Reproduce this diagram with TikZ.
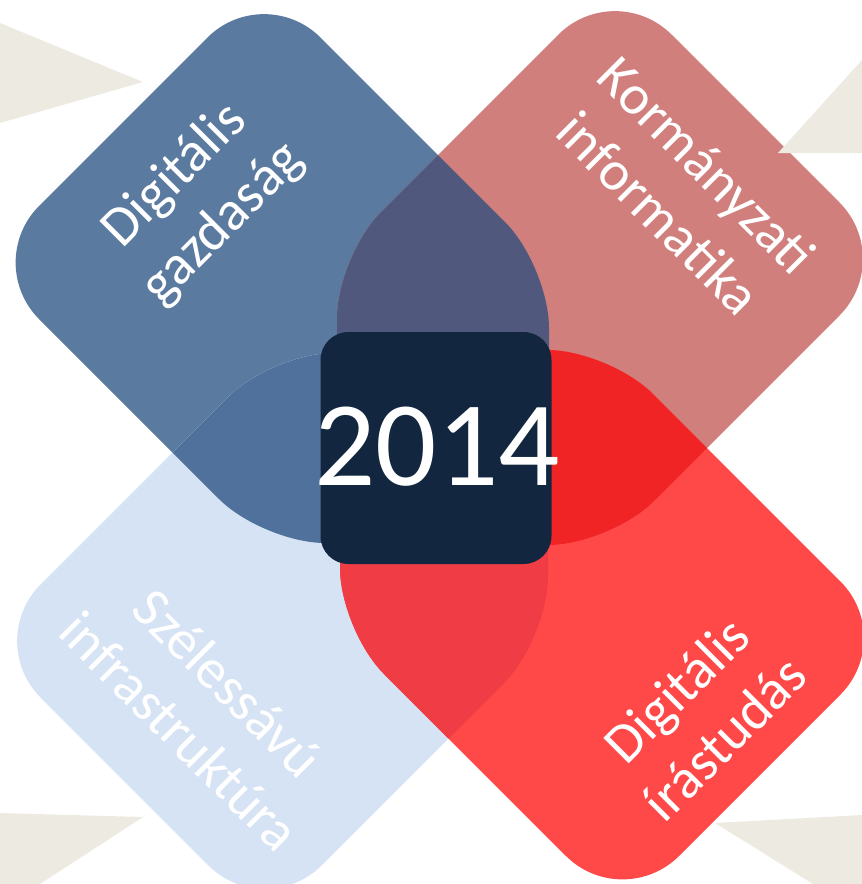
\documentclass[tikz,border=0pt]{standalone}
\usepackage{fontspec}
\setmainfont{Carlito}
\usepackage{tikz}
\usetikzlibrary{positioning}

\definecolor{gazdblue}{HTML}{5B7AA0}
\definecolor{kormpink}{HTML}{D07F7C}
\definecolor{szelblue}{HTML}{D6E3F4}
\definecolor{irasred}{HTML}{FF4848}
\definecolor{topmix}{HTML}{50597D}
\definecolor{leftmix}{HTML}{50719C}
\definecolor{rightmix}{HTML}{F02424}
\definecolor{bottommix}{HTML}{F03D45}
\definecolor{yeardark}{HTML}{12263F}
\definecolor{sandbeige}{HTML}{EDEBE1}

% the four petals, inner corner first
\newcommand{\gazdpetal}{(549,543) [rounded corners=62pt] -- (549,266) [rounded corners=80pt] -- (264,-19) -- (-17.5,262.5) [rounded corners=62pt] -- (263,543) -- cycle}
\newcommand{\kormpetal}{(337,545) [rounded corners=62pt] -- (337,256) [rounded corners=80pt] -- (615,-22) -- (896,259) [rounded corners=62pt] -- (610,545) -- cycle}
\newcommand{\szelpetal}{(548,353) [rounded corners=62pt] -- (272,353) [rounded corners=80pt] -- (-16,641) -- (265,922) [rounded corners=62pt] -- (548,639) -- cycle}
\newcommand{\iraspetal}{(340,350) [rounded corners=62pt] -- (609,350) [rounded corners=80pt] -- (897,638) -- (622.5,912.5) [rounded corners=62pt] -- (340,630) -- cycle}

\begin{document}
\begin{tikzpicture}[x=1pt, y=-1pt,
    sand/.style={fill=sandbeige},
    petaltext/.style={text=white, align=center, font=\fontsize{56}{68}\selectfont},
    yearbox/.style={fill=yeardark, rounded corners=28pt, minimum width=231pt, minimum height=232pt, inner sep=0pt},
    yeartext/.style={text=white, inner sep=0pt, font=\fontsize{121}{121}\selectfont}]
  \useasboundingbox (0,0) rectangle (862,884);

  \fill[gazdblue] \gazdpetal; % top left
  \fill[kormpink] \kormpetal; % top right
  \fill[szelblue] \szelpetal; % bottom left
  \fill[irasred] \iraspetal; % bottom right

  % overlaps
  \begin{scope}
    \clip \gazdpetal;
    \fill[topmix] \kormpetal;
    \fill[leftmix] \szelpetal;
  \end{scope}
  \begin{scope}
    \clip \iraspetal;
    \fill[rightmix] \kormpetal;
    \fill[bottommix] \szelpetal;
  \end{scope}

  \fill[sand] (0,23) -- (143,82) -- (0,123) -- cycle; % top left
  \fill[sand] (778,153) -- (862,60) -- (862,153) -- cycle; % top right
  \fill[sand] (0,813) -- (143,817) -- (40,884) -- (0,884) -- cycle; % bottom left
  \fill[sand] (715,823) -- (862,815) -- (862,884) -- (813,884) -- cycle; % bottom right

  \node[yearbox] (year) at (436,448) {};
  \node[yeartext] (yeartxt) at (437,447) {2014};

  \node[petaltext, rotate=45] (gazdlabel) at (199,200) {Digitális\\gazdaság};
  \node[petaltext, rotate=-45] (kormlabel) at (683,189) {Kormányzati\\informatika};
  \node[petaltext, rotate=-45] (szellabel) at (204,707) {Szélessávú\\infrastruktúra};
  \node[petaltext, rotate=45] (iraslabel) at (700,714) {Digitális\\írástudás};
\end{tikzpicture}
\end{document}
